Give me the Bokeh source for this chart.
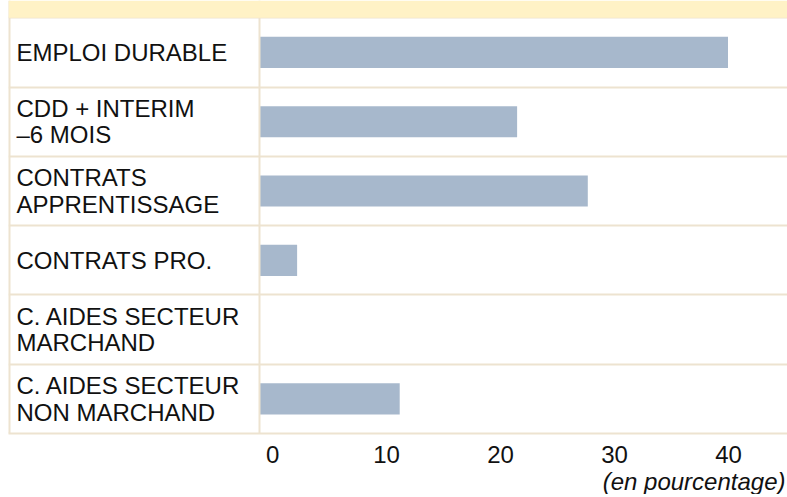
from bokeh.plotting import figure
from bokeh.models import Range1d, FixedTicker, Span, BoxAnnotation, Title, ColumnDataSource
from bokeh.core.properties import value
from bokeh.embed import file_html
from bokeh.resources import INLINE

# ---- data ----
categories = [
    "EMPLOI DURABLE",
    "CDD + INTERIM\n\u20136 MOIS",
    "CONTRATS\nAPPRENTISSAGE",
    "CONTRATS PRO.",
    "C. AIDES SECTEUR\nMARCHAND",
    "C. AIDES SECTEUR\nNON MARCHAND",
]
values = [41.1, 22.6, 28.8, 3.3, 0.0, 12.3]
tick_values = [0, 10, 20, 30, 40]
tick_labels = ["0", "10", "20", "30", "40"]
unit_note = "(en pourcentage)"

# ---- styling / layout constants ----
FONT = "Liberation Sans"
BAR_COLOR = "#a7b8cc"
BAND_COLOR = "#fff2c6"
LINE_COLOR = "#ede3d0"
X_START, X_END = -22.02, 46.32
BAND = 0.25
LABEL_SHIFT = 1.15   # tick labels sit slightly right of their tick

n = len(categories)
rows = list(range(n))
src = ColumnDataSource(dict(y=rows, v=values, label=categories,
                            lx=[X_START] * n))

p = figure(width=787, height=494,
           x_range=Range1d(X_START, X_END),
           y_range=Range1d(n - 0.5, -0.5 - BAND),
           output_backend="svg", toolbar_location=None,
           min_border_left=8, min_border_right=0,
           min_border_top=0, min_border_bottom=0)
p.outline_line_color = None
p.background_fill_color = "white"
p.border_fill_color = "white"

# row separators
p.ygrid.ticker = FixedTicker(ticks=[i - 0.5 for i in range(n + 1)])
p.ygrid.grid_line_color = LINE_COLOR
p.ygrid.grid_line_width = 2
p.xgrid.visible = False
p.yaxis.visible = False

# bars
p.hbar(y="y", left=0, right="v", height=0.45, source=src,
       fill_color=BAR_COLOR, line_color=None)

# labels
p.text(x="lx", y="y", text="label", source=src, x_offset=8,
       text_font=value(FONT), text_font_size="24px", text_color="#111111",
       text_align="left", text_baseline="middle", text_line_height=0.98)

# vertical lines
p.add_layout(Span(location=0, dimension="height", line_color=LINE_COLOR, line_width=2))
p.add_layout(Span(location=X_START, dimension="height", line_color=LINE_COLOR, line_width=4))
# title band
p.add_layout(BoxAnnotation(bottom=-0.5, top=-0.5 - BAND, fill_color=BAND_COLOR,
                           fill_alpha=1, line_color=None))

# x axis
ax = p.xaxis[0]
ax.ticker = FixedTicker(ticks=[t + LABEL_SHIFT for t in tick_values])
ax.major_label_overrides = {t + LABEL_SHIFT: s for t, s in zip(tick_values, tick_labels)}
ax.axis_line_color = LINE_COLOR
ax.axis_line_width = 2
ax.major_tick_line_color = None
ax.minor_tick_line_color = None
ax.major_label_text_font = FONT
ax.major_label_text_font_size = "24px"
ax.major_label_text_color = "#111111"
ax.major_label_standoff = 6

note = Title(text=unit_note, align="right", text_font=FONT, text_font_size="24px",
             text_font_style="italic", text_color="#111111", standoff=0, offset=2)
p.add_layout(note, "below")

open("out.html", "w").write(file_html(p, INLINE))
